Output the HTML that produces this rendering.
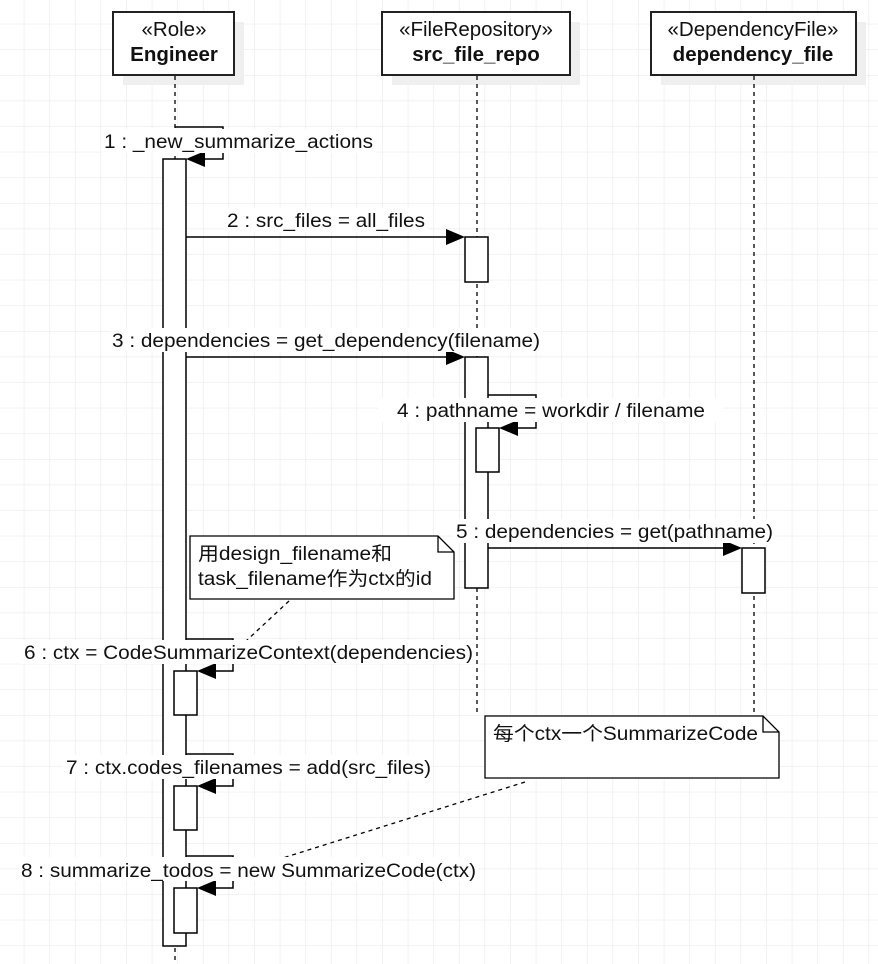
<!DOCTYPE html>
<html><head><meta charset="utf-8"><style>
html,body{margin:0;padding:0;background:#fff}
svg{display:block}
text{font-family:"Liberation Sans","Noto Sans CJK SC",sans-serif;font-size:19px;fill:#111}
text.h{font-size:20.5px}
</style></head><body>
<svg width="878" height="964" viewBox="0 0 878 964" xmlns="http://www.w3.org/2000/svg">
<defs>
<pattern id="g" x="-1.3" y="-1.3" width="25.6" height="25.6" patternUnits="userSpaceOnUse">
<path d="M25.6 0V25.6M0 25.6H25.6" stroke="#e6e6e6" stroke-width="1" fill="none"/>
</pattern>
</defs>
<rect width="878" height="964" fill="url(#g)"/>
<rect x="123" y="22" width="121" height="63" fill="#efefef"/>
<rect x="392" y="22" width="188" height="63" fill="#efefef"/>
<rect x="661" y="22" width="205" height="63" fill="#efefef"/>
<g stroke="#000" stroke-width="1.3" stroke-dasharray="4,4" fill="none">
<line x1="175" y1="76" x2="175" y2="964"/>
<line x1="477" y1="76" x2="477" y2="716"/>
<line x1="754" y1="76" x2="754" y2="716"/>
<line x1="289" y1="601" x2="245" y2="642"/>
<line x1="525" y1="782" x2="270" y2="862"/>
</g>
<g fill="#fff" stroke="#222" stroke-width="2">
<rect x="113" y="12" width="121" height="63"/>
<rect x="382" y="12" width="188" height="63"/>
<rect x="651" y="12" width="205" height="63"/>
</g>
<text class="h" x="174" y="36" text-anchor="middle">«Role»</text>
<text class="h" x="174" y="61" text-anchor="middle" font-weight="bold">Engineer</text>
<text class="h" x="476" y="36" text-anchor="middle">«FileRepository»</text>
<text class="h" x="476" y="61" text-anchor="middle" font-weight="bold">src_file_repo</text>
<text class="h" x="753" y="36" text-anchor="middle">«DependencyFile»</text>
<text class="h" x="753" y="61" text-anchor="middle" font-weight="bold">dependency_file</text>
<g fill="#fff" stroke="#000" stroke-width="1.5">
<rect x="163" y="159" width="23" height="787"/>
<rect x="465" y="237" width="23" height="45"/>
<rect x="465" y="357" width="23" height="231"/>
<rect x="476" y="428" width="23" height="44"/>
<rect x="742" y="548" width="23" height="45"/>
<rect x="174" y="671" width="23" height="44"/>
<rect x="174" y="786" width="23" height="44"/>
<rect x="174" y="888" width="23" height="45"/>
</g>
<g stroke="#000" stroke-width="1.5" fill="none">
<polyline points="175,127 223,127 223,159 196,159"/>
<line x1="186" y1="237" x2="452" y2="237"/>
<line x1="186" y1="357" x2="452" y2="357"/>
<polyline points="488,395 536,395 536,428 509,428"/>
<line x1="488" y1="548" x2="729" y2="548"/>
<polyline points="186,639 233,639 233,671 207,671"/>
<polyline points="186,754 233,754 233,786 207,786"/>
<polyline points="186,856 233,856 233,888 207,888"/>
</g>
<g fill="#000">
<polygon points="186,159 205,151 205,167"/>
<polygon points="465,237 446,229 446,245"/>
<polygon points="465,357 446,349 446,365"/>
<polygon points="499,428 518,420 518,436"/>
<polygon points="742,548 723,540 723,556"/>
<polygon points="197,671 216,663 216,679"/>
<polygon points="197,786 216,778 216,794"/>
<polygon points="197,888 216,880 216,896"/>
</g>
<g fill="#fff">
<rect x="102" y="129" width="273" height="24"/>
<rect x="224" y="208" width="204" height="24"/>
<rect x="110" y="328" width="432" height="24"/>
<rect x="378" y="398" width="345" height="24"/>
<rect x="453" y="519" width="322" height="24"/>
<rect x="22" y="640" width="452" height="24"/>
<rect x="63" y="755" width="370" height="24"/>
<rect x="19" y="857" width="459" height="24"/>
</g>
<text x="104" y="148" textLength="269" lengthAdjust="spacingAndGlyphs">1 : _new_summarize_actions</text>
<text x="227" y="227" textLength="198" lengthAdjust="spacingAndGlyphs">2 : src_files = all_files</text>
<text x="112" y="347" textLength="428" lengthAdjust="spacingAndGlyphs">3 : dependencies = get_dependency(filename)</text>
<text x="397" y="417" textLength="308" lengthAdjust="spacingAndGlyphs">4 : pathname = workdir / filename</text>
<text x="456" y="538" textLength="317" lengthAdjust="spacingAndGlyphs">5 : dependencies = get(pathname)</text>
<text x="24" y="659" textLength="449" lengthAdjust="spacingAndGlyphs">6 : ctx = CodeSummarizeContext(dependencies)</text>
<text x="66" y="774" textLength="365" lengthAdjust="spacingAndGlyphs">7 : ctx.codes_filenames = add(src_files)</text>
<text x="21" y="877" textLength="455" lengthAdjust="spacingAndGlyphs">8 : summarize_todos = new SummarizeCode(ctx)</text>
<g fill="#fff" stroke="#000" stroke-width="1.3">
<path d="M190 536H438L454 552V599H190Z"/>
<path d="M438 536V552H454" fill="none"/>
<path d="M485 716H763L779 732V778H485Z"/>
<path d="M763 716V732H779" fill="none"/>
</g>
<text x="198" y="560" textLength="194" lengthAdjust="spacingAndGlyphs">用design_filename和</text>
<text x="198" y="585" textLength="234" lengthAdjust="spacingAndGlyphs">task_filename作为ctx的id</text>
<text x="493" y="740" textLength="265" lengthAdjust="spacingAndGlyphs">每个ctx一个SummarizeCode</text>
</svg>
</body></html>
